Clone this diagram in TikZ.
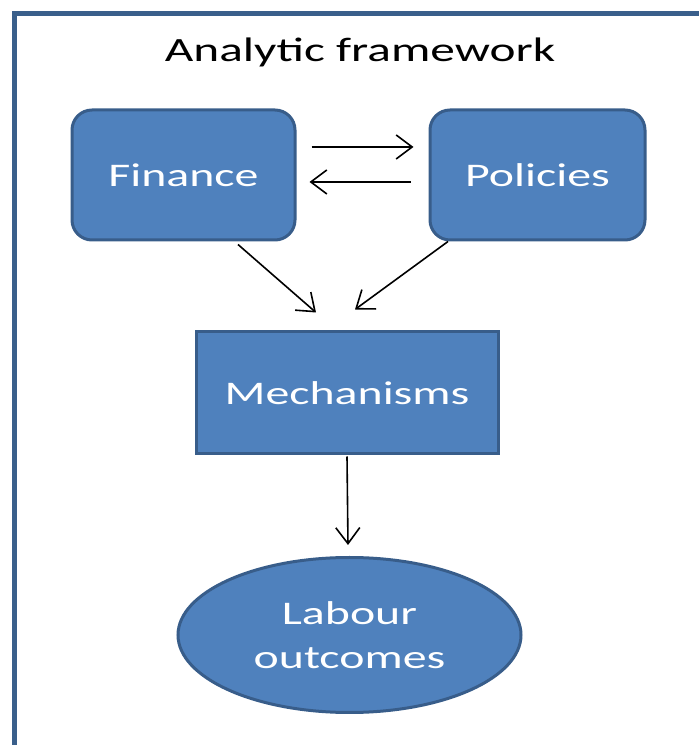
\documentclass[tikz,border=0pt]{standalone}
\usepackage{fontspec}
\setmainfont{Carlito}[FakeStretch=1.45]
\usetikzlibrary{positioning,calc,arrows.meta,shapes.geometric}
\definecolor{boxfill}{HTML}{4F81BD}
\definecolor{boxline}{HTML}{385D8A}
\definecolor{frameline}{HTML}{3A5F8B}
\tikzset{
  topbox/.style={draw=boxline, line width=3pt, fill=boxfill, rounded corners=20pt,
    text=white, font=\fontsize{33}{44}\selectfont, minimum height=130pt},
  midbox/.style={draw=boxline, line width=3pt, fill=boxfill,
    text=white, font=\fontsize{33}{44}\selectfont, minimum width=302pt, minimum height=122pt},
  endoval/.style={ellipse, draw=boxline, line width=3pt, fill=boxfill, align=center,
    text=white, font=\fontsize{33}{44}\selectfont, minimum width=343pt, minimum height=155pt, inner sep=0pt},
  link/.style={-{Straight Barb[length=16pt,width=24pt,line width=1.6pt]}, line width=1.6pt}
}
\begin{document}
\begin{tikzpicture}[x=1pt,y=1pt]
\useasboundingbox (0,0) rectangle (699,745);
% outer frame
\draw[frameline, line width=5pt] (14,-20) -- (14,731) -- (720,731);
\node[anchor=base, font=\fontsize{34}{40}\selectfont] (title) at (360,683) {Analytic framework};
% boxes
\node[topbox, minimum width=223pt] (fin) at (183.5,570) {Finance};
\node[topbox, minimum width=215pt] (pol) at (537.5,570) {Policies};
\node[midbox] (mech) at (347,352) {Mechanisms};
\node[endoval] (lab) at (349.5,110) {Labour\\outcomes};
% arrows
\draw[link] ($(fin.east)+(15,28)$) -- ($(pol.west)+(-15,28)$);
\draw[link] ($(pol.west)+(-18,-7)$) -- ($(fin.east)+(13,-7)$);
\draw[link] ($(fin.south)+(54.5,-3)$) -- ($(mech.north)+(-31,18)$);
\draw[link] ($(pol.south)+(-89.5,0)$) -- ($(mech.north)+(8,21)$);
\draw[link] ($(mech.south)+(0,-1)$) -- ($(lab.north)+(-1.5,11)$);
\end{tikzpicture}
\end{document}
